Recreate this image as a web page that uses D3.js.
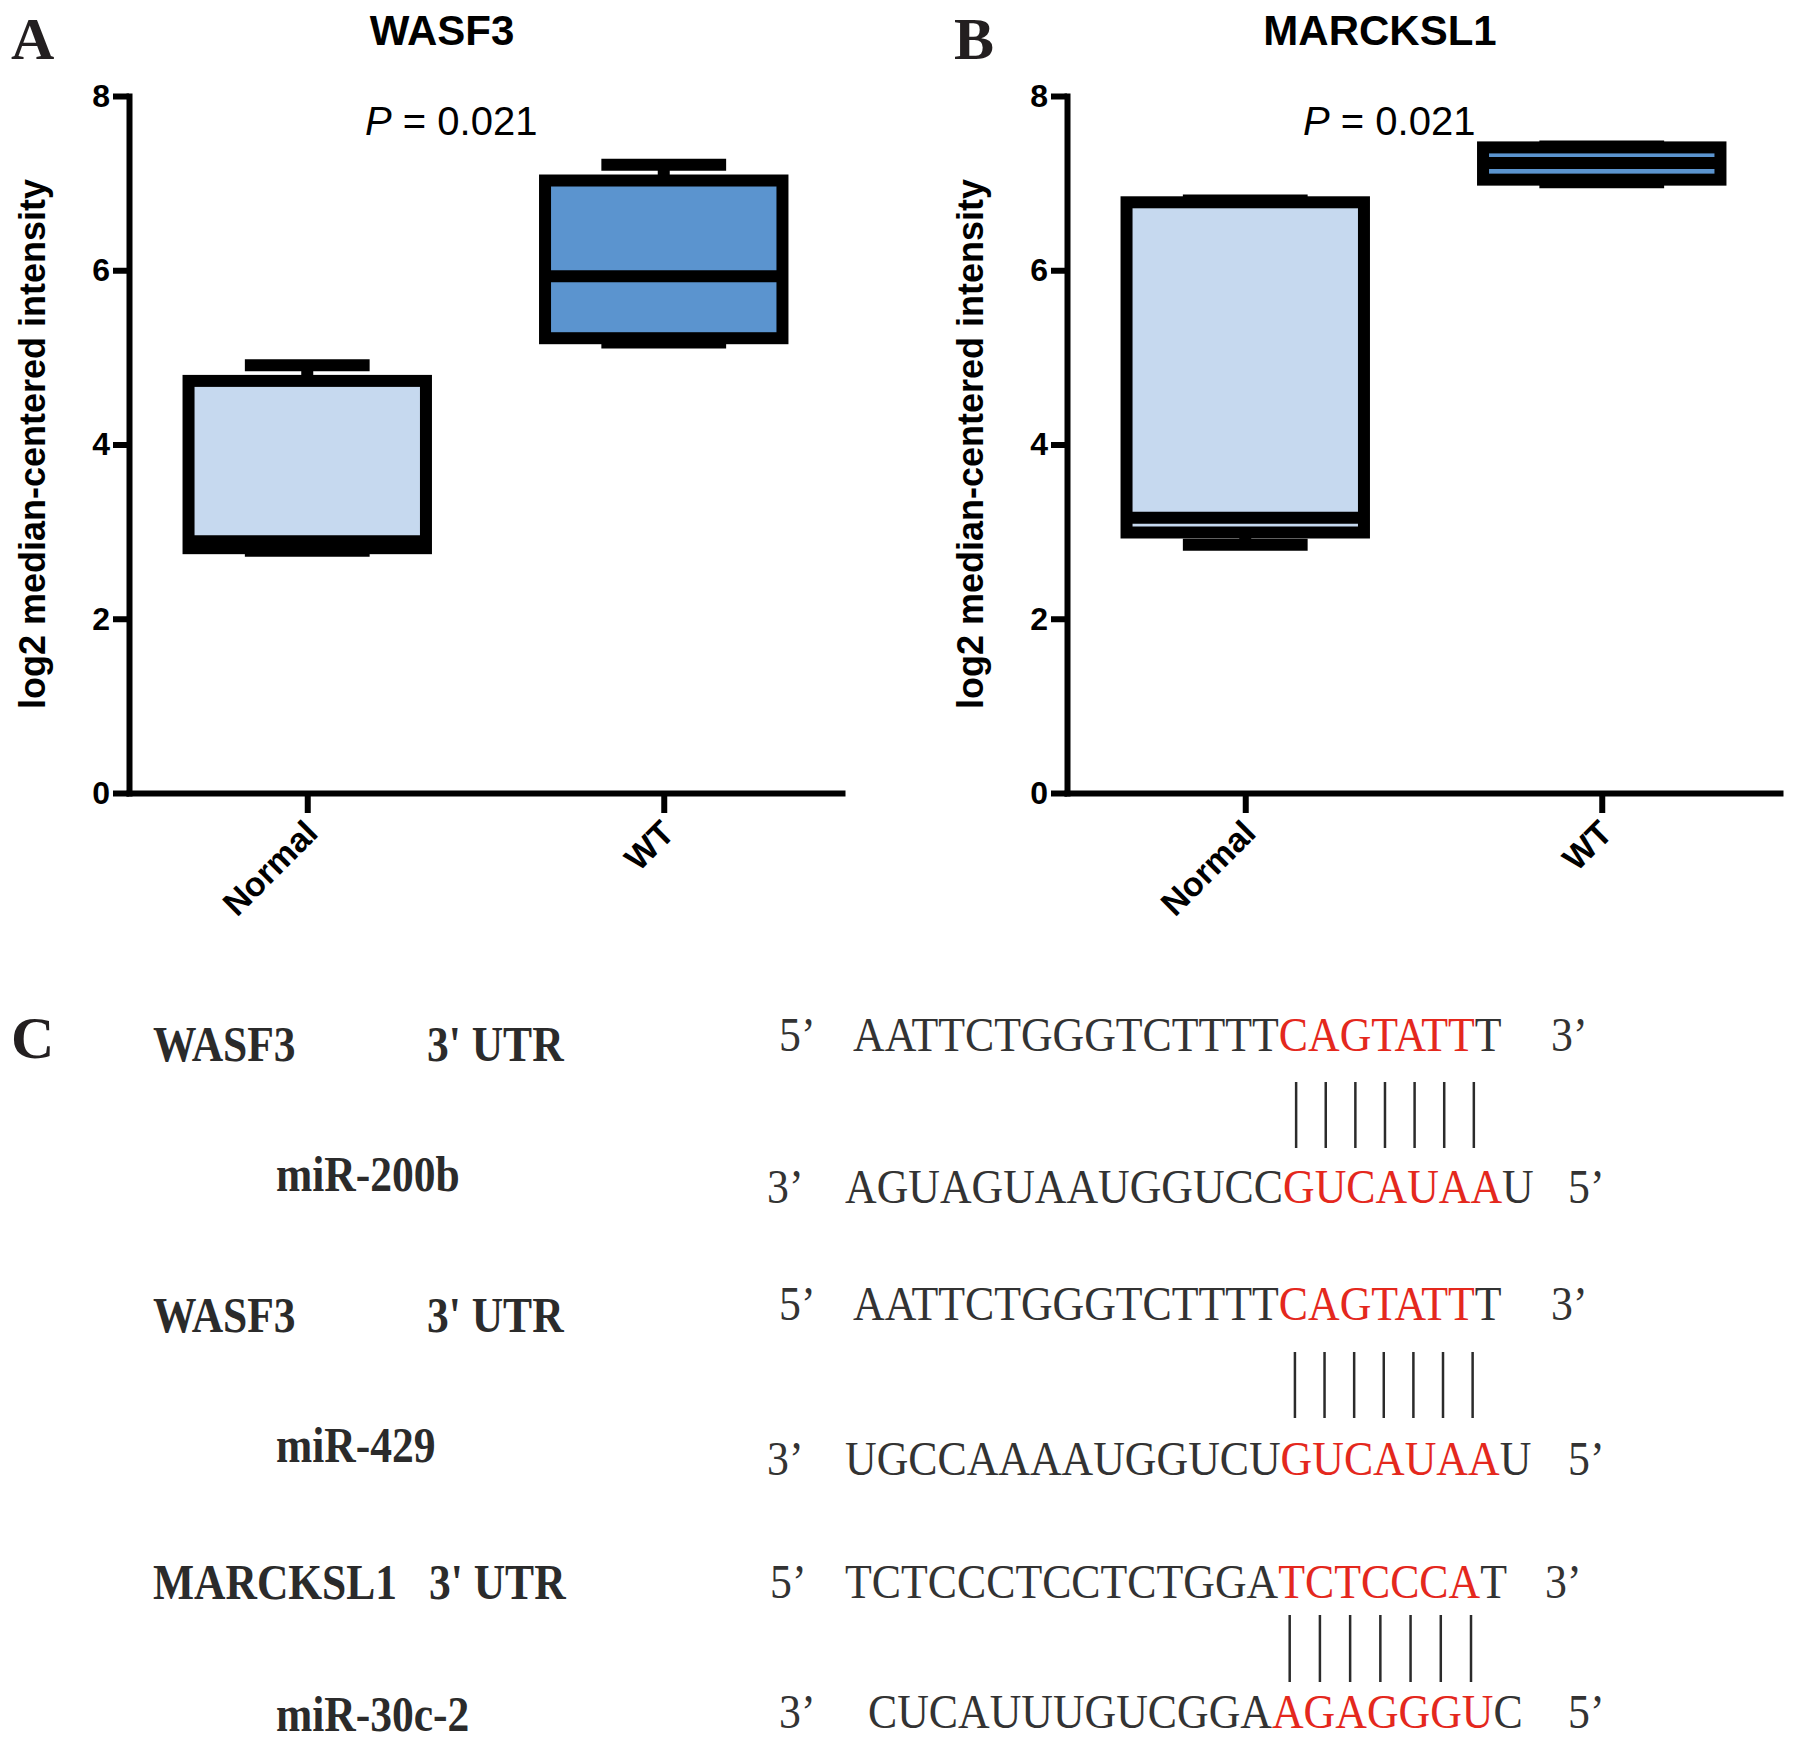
<!DOCTYPE html>
<html>
<head>
<meta charset="utf-8">
<script src="https://cdn.jsdelivr.net/npm/d3@7"></script>
<style>
	body { margin: 0; background: #fff; }
	svg { display: block; }
</style>
</head>
<body>
<svg id="fig" width="1795" height="1747"></svg>
<script>

// ---- data: box plots (log2 median-centered intensity) ----
var groups = ["Normal", "WT"];
var yTicks = [0, 2, 4, 6, 8];

var wasf3Min    = [2.78, 5.17];
var wasf3Q1     = [2.81, 5.22];
var wasf3Median = [2.89, 5.93];
var wasf3Q3     = [4.73, 7.03];
var wasf3Max    = [4.91, 7.21];

var marcksl1Min    = [2.85, 7.01];
var marcksl1Q1     = [2.99, 7.04];
var marcksl1Median = [3.16, 7.23];
var marcksl1Q3     = [6.78, 7.41];
var marcksl1Max    = [6.80, 7.42];

var pLabel = "0.021";

// ---- data: seed pairing ----
var siteGenes   = ["WASF3", "WASF3", "MARCKSL1"];
var mirnaNames  = ["miR-200b", "miR-429", "miR-30c-2"];
var utrSeqs     = ["AATTCTGGGTCTTTTCAGTATTT", "AATTCTGGGTCTTTTCAGTATTT", "TCTCCCTCCTCTGGATCTCCCAT"];
var mirnaSeqs   = ["AGUAGUAAUGGUCCGUCAUAAU", "UGCCAAAAUGGUCUGUCAUAAU", "CUCAUUUGUCGGAAGAGGGUC"];
var utrSeed     = [15, 15, 15];
var mirnaSeed   = [14, 14, 13];
var seedLength  = [7, 7, 7];


var sans  = "'Liberation Sans', Arial, sans-serif";
var serif = "'Liberation Serif', 'Times New Roman', serif";
var lightFill = "#c6d9ef";
var darkFill  = "#5b94cf";
var seedRed   = "#e4281d";
var seqGrey   = "#333";
var seqScale  = 0.913;

var svg = d3.select("#fig");

function drawBoxPanel( opt ) {

	var g = svg.append("g")
		.attr("transform", "translate(" + opt.left + ",0)");

	var x = d3.scalePoint()
		.domain(groups)
		.range([0, 713])
		.padding(0.5);

	var y = d3.scaleLinear()
		.domain([0, 8])
		.range([793, 96]);

	var boxW = x.step() * 0.666;
	var capW = x.step() * 0.35;

	groups.forEach(function(name, i) {
		var cx = x(name);
		var b = g.append("g");

		b.append("line")
			.attr("x1", cx).attr("x2", cx)
			.attr("y1", y(opt.max[i])).attr("y2", y(opt.min[i]))
			.attr("stroke", "#000").attr("stroke-width", 12);

		[opt.max[i], opt.min[i]].forEach(function(v) {
			b.append("line")
				.attr("x1", cx - capW/2).attr("x2", cx + capW/2)
				.attr("y1", y(v)).attr("y2", y(v))
				.attr("stroke", "#000").attr("stroke-width", 12);
		});

		b.append("rect")
			.attr("x", cx - boxW/2)
			.attr("y", y(opt.q3[i]))
			.attr("width", boxW)
			.attr("height", y(opt.q1[i]) - y(opt.q3[i]))
			.attr("fill", opt.fills[i])
			.attr("stroke", "#000")
			.attr("stroke-width", 12);

		b.append("line")
			.attr("x1", cx - boxW/2).attr("x2", cx + boxW/2)
			.attr("y1", y(opt.median[i])).attr("y2", y(opt.median[i]))
			.attr("stroke", "#000").attr("stroke-width", 12);
	});

	// axes
	var yAxis = g.append("g")
		.call(d3.axisLeft(y).tickValues(yTicks).tickSize(16).tickSizeOuter(0).tickPadding(3));

	var xAxis = g.append("g")
		.attr("transform", "translate(0,793)")
		.call(d3.axisBottom(x).tickSize(20).tickSizeOuter(0));

	[yAxis, xAxis].forEach(function(a) {
		a.select(".domain")
			.attr("stroke", "#000")
			.attr("stroke-width", 6)
			.attr("stroke-linecap", "square");
		a.selectAll(".tick line")
			.attr("stroke", "#000")
			.attr("stroke-width", 6);
	});

	yAxis.selectAll(".tick text")
		.attr("font-family", sans)
		.attr("font-size", 32)
		.attr("font-weight", "bold")
		.attr("fill", "#000");

	xAxis.selectAll(".tick text").remove();
	xAxis.selectAll(".tick").append("text")
		.attr("transform", "translate(12,42) rotate(-45)")
		.attr("text-anchor", "end")
		.attr("font-family", sans)
		.attr("font-size", 34)
		.attr("font-weight", "bold")
		.attr("fill", "#000")
		.text(function(d) { return d; });

	yAxis.attr("font-family", null).attr("font-size", null);
	xAxis.attr("font-family", null).attr("font-size", null);

	// y label
	g.append("text")
		.attr("transform", "translate(-97,444) rotate(-90)")
		.attr("dy", "0.36em")
		.attr("text-anchor", "middle")
		.attr("font-family", sans)
		.attr("font-size", 36)
		.attr("font-weight", "bold")
		.text("log2 median-centered intensity");

	// title
	g.append("text")
		.attr("x", 313)
		.attr("y", 45)
		.attr("text-anchor", "middle")
		.attr("font-family", sans)
		.attr("font-size", 42)
		.attr("font-weight", "bold")
		.text(opt.title);

	// p value
	var p = g.append("text")
		.attr("x", 236)
		.attr("y", 135)
		.attr("font-family", sans)
		.attr("font-size", 40);
	p.append("tspan").attr("font-style", "italic").text("P");
	p.append("tspan").text(" = " + pLabel);

	// panel letter
	svg.append("text")
		.attr("x", opt.letterX)
		.attr("y", 59)
		.attr("font-family", serif)
		.attr("font-size", 60)
		.attr("font-weight", "bold")
		.attr("fill", "#231f20")
		.text(opt.letter);
}

drawBoxPanel({
	left: 129, letterX: 11, letter: "A", title: "WASF3",
	min: wasf3Min, q1: wasf3Q1, median: wasf3Median, q3: wasf3Q3, max: wasf3Max,
	fills: [lightFill, darkFill]
});

drawBoxPanel({
	left: 1067, letterX: 954, letter: "B", title: "MARCKSL1",
	min: marcksl1Min, q1: marcksl1Q1, median: marcksl1Median, q3: marcksl1Q3, max: marcksl1Max,
	fills: [lightFill, darkFill]
});


// ---- panel C : seed pairing ----
var layoutC = {
	geneBase:   [1061, 1332, 1599],
	utrTagX:    [427, 427, 429],
	mirBase:    [1191, 1462, 1731],
	utrBase:    [1051, 1320, 1598],
	utrPrimeX:  [779, 779, 770],
	utrSeqX:    [853, 853, 845],
	utrEndX:    [1551, 1551, 1545],
	mirSeqBase: [1203, 1475, 1728],
	mirPrimeX:  [767, 767, 779],
	mirSeqX:    [845, 845, 868],
	mirEndX:    [1568, 1568, 1568],
	pairTop:    [1082, 1352, 1615],
	pairBottom: [1148, 1418, 1682]
};

var cLayer = svg.append("g");

cLayer.append("text")
	.attr("x", 11).attr("y", 1058)
	.attr("font-family", serif)
	.attr("font-size", 60)
	.attr("font-weight", "bold")
	.attr("fill", "#231f20")
	.text("C");

function condensed( xPos, yPos, sx ) {
	return cLayer.append("g")
		.attr("transform", "translate(" + xPos + "," + yPos + ") scale(" + sx + ",1)");
}

function label( xPos, yPos, str ) {
	condensed(xPos, yPos, 0.87).append("text")
		.attr("font-family", serif)
		.attr("font-size", 50)
		.attr("font-weight", "bold")
		.attr("fill", "#2b2b2b")
		.text(str);
}

function plain( xPos, yPos, str ) {
	condensed(xPos, yPos, seqScale).append("text")
		.attr("font-family", serif)
		.attr("font-size", 48)
		.attr("fill", seqGrey)
		.text(str);
}

function sequence( xPos, yPos, seq, seedStart, seedLen ) {
	var t = condensed(xPos, yPos, seqScale).append("text")
		.attr("font-family", serif)
		.attr("font-size", 48)
		.attr("fill", seqGrey);
	t.append("tspan").text(seq.slice(0, seedStart));
	t.append("tspan").attr("fill", seedRed).text(seq.slice(seedStart, seedStart + seedLen));
	t.append("tspan").text(seq.slice(seedStart + seedLen));

	var node = t.node();
	var centers = [];
	for (var i = seedStart; i < seedStart + seedLen; i++) {
		var a = node.getStartPositionOfChar(i).x;
		var b = node.getEndPositionOfChar(i).x;
		centers.push(xPos + seqScale * (a + b) / 2);
	}
	return centers;
}

siteGenes.forEach(function(gene, k) {
	label(153, layoutC.geneBase[k], gene);
	label(layoutC.utrTagX[k], layoutC.geneBase[k], "3' UTR");
	label(276, layoutC.mirBase[k], mirnaNames[k]);

	plain(layoutC.utrPrimeX[k], layoutC.utrBase[k], "5\u2019");
	var top = sequence(layoutC.utrSeqX[k], layoutC.utrBase[k], utrSeqs[k], utrSeed[k], seedLength[k]);
	plain(layoutC.utrEndX[k], layoutC.utrBase[k], "3\u2019");

	plain(layoutC.mirPrimeX[k], layoutC.mirSeqBase[k], "3\u2019");
	var bottom = sequence(layoutC.mirSeqX[k], layoutC.mirSeqBase[k], mirnaSeqs[k], mirnaSeed[k], seedLength[k]);
	plain(layoutC.mirEndX[k], layoutC.mirSeqBase[k], "5\u2019");

	// evenly spaced pairing bars between the first and last seed bases
	var n = seedLength[k];
	var first = (top[0] + bottom[0]) / 2;
	var last  = (top[n-1] + bottom[n-1]) / 2;
	var px = d3.scaleLinear().domain([0, n - 1]).range([first, last]);

	cLayer.append("g").selectAll("line")
		.data(d3.range(n))
		.enter().append("line")
		.attr("x1", function(d) { return px(d); })
		.attr("x2", function(d) { return px(d); })
		.attr("y1", layoutC.pairTop[k])
		.attr("y2", layoutC.pairBottom[k])
		.attr("stroke", "#2b2b2b")
		.attr("stroke-width", 2.5);
});

</script>
</body>
</html>
